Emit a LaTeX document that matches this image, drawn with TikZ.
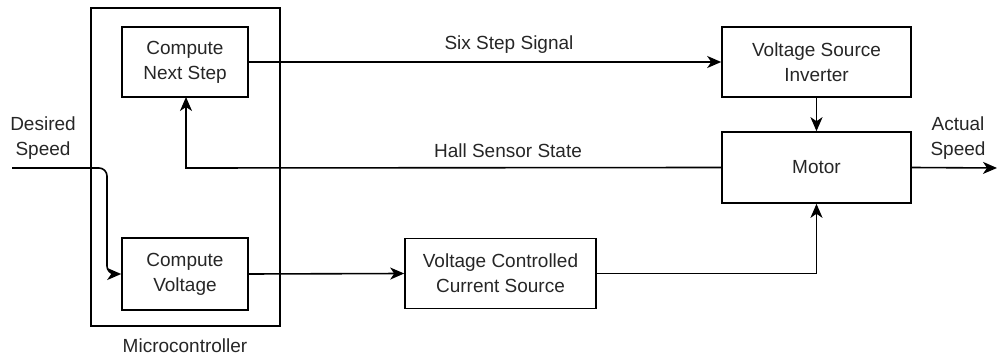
\documentclass[tikz,border=0pt]{standalone}
\usepackage{fontspec}
\setmainfont{Liberation Sans}
\usetikzlibrary{calc,arrows.meta}

\begin{document}
\begin{tikzpicture}[x=1pt,y=-1pt,line width=1.6pt,
  blk/.style={draw,align=center,inner sep=0pt,text=black!85},
  lbl/.style={align=center,inner sep=0pt,text=black!85},
  arr/.style={-{Stealth[length=14pt,width=12pt,inset=4pt]}}]
  \useasboundingbox (0,0) rectangle (997,358);
  \tikzset{every node/.append style={font=\fontsize{19}{25}\selectfont}}
  \draw (91,8) rectangle (280,326);
  \node[blk,minimum width=126,minimum height=70] (cns) at (185,62) {Compute\\Next Step};
  \node[blk,minimum width=126,minimum height=72] (cv) at (185,274) {Compute\\Voltage};
  \node[blk,minimum width=191,minimum height=70] (vcc) at (500.5,273.5) {Voltage Controlled\\Current Source};
  \node[blk,minimum width=189,minimum height=70] (vsi) at (816.5,62) {Voltage Source\\Inverter};
  \node[blk,minimum width=189,minimum height=71] (mot) at (816.5,167.5) {Motor};
  \coordinate (in) at (12,168); \coordinate (out) at (997,168);
  \draw[arr,rounded corners=8pt] (in)--(107,168)--(107,274)--(cv.west);
  \draw[arr] (cns.east)--(vsi.west);
  \draw[arr] (mot.west)--(186,168)--(186,97);
  \draw[arr] (cv.east)--(vcc.west);
  \draw[arr] (vcc.east)-|(mot.south);
  \draw[arr] (vsi.south)--(mot.north);
  \draw[arr] (mot.east)--(out);
  \node[lbl] at (509,45) {Six Step Signal};
  \node[lbl] at (508,151) {Hall Sensor State};
  \node[lbl] at (43,138) {Desired\\Speed};
  \node[lbl] at (958,138) {Actual\\Speed};
  \node[lbl] at (185,346) {Microcontroller};
\end{tikzpicture}
\end{document}
